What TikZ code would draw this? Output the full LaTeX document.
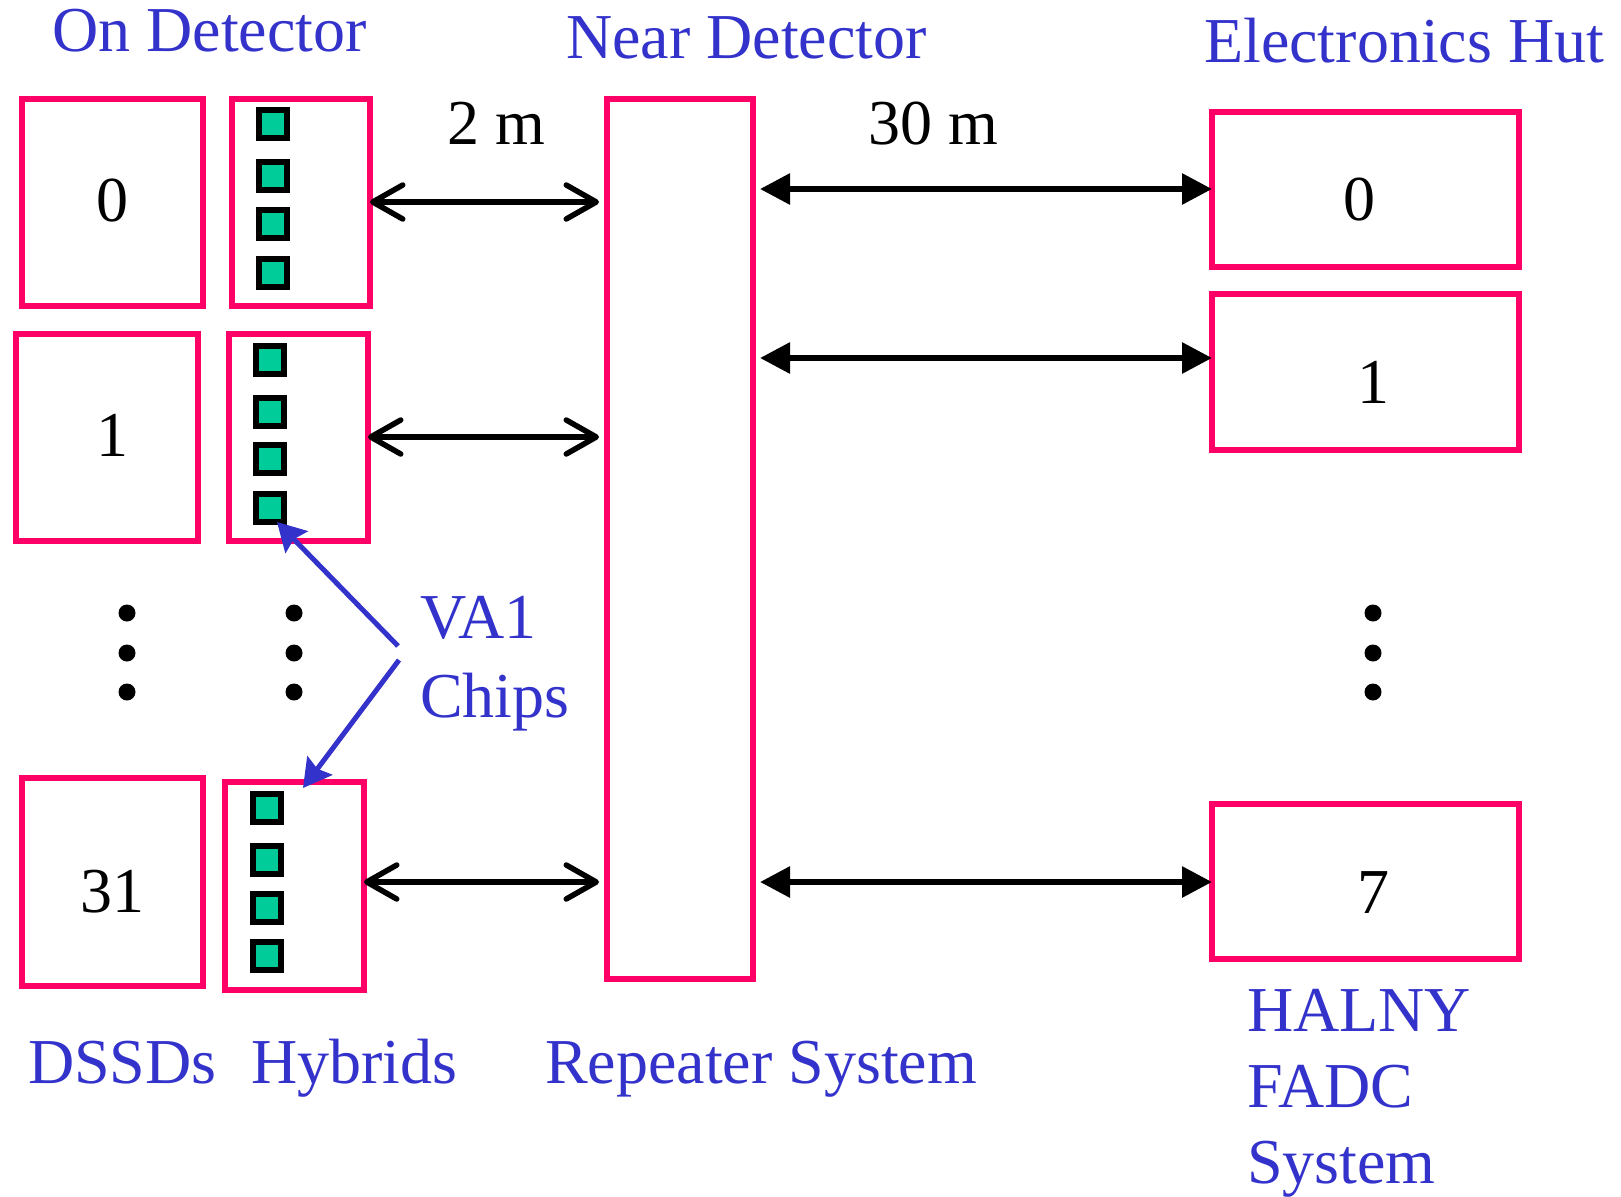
\documentclass[tikz,border=0pt]{standalone}
\usepackage{fontspec}
\setmainfont{Liberation Serif}
\usetikzlibrary{arrows.meta}
\definecolor{pinkc}{HTML}{FF0066}
\definecolor{bluec}{HTML}{3333CC}
\definecolor{chipc}{HTML}{00CC99}
\begin{document}
\begin{tikzpicture}[x=1pt,y=-1pt,
  box/.style={draw=pinkc,line width=6pt,inner sep=0pt,outer sep=0pt,rectangle},
  chip/.style={draw=black,fill=chipc,line width=6pt,minimum size=28pt,inner sep=0pt,outer sep=0pt,rectangle},
  num/.style={font=\fontsize{64}{70}\selectfont,inner sep=0pt,text=black},
  lbl/.style={font=\fontsize{64}{70}\selectfont,inner sep=0pt,text=bluec,anchor=base west},
  dist/.style={font=\fontsize{64}{70}\selectfont,inner sep=0pt,text=black,anchor=base west},
  dotn/.style={circle,fill=black,inner sep=0pt,minimum size=17pt},
  shortlink/.style={line width=5.5pt,{Straight Barb[length=30pt,width=34pt,line cap=round,line join=round]}-{Straight Barb[length=30pt,width=34pt,line cap=round,line join=round]}},
  longlink/.style={line width=6pt,{Triangle[length=30pt,width=30pt]}-{Triangle[length=30pt,width=30pt]}},
  chiparrow/.style={draw=bluec,line width=5pt,-{Stealth[length=28pt,width=31pt,inset=4pt]}}
]
\useasboundingbox (0,0) rectangle (1621,1196);

% DSSDs and hybrids
\node[box,minimum width=181pt,minimum height=207pt] (d0) at (112.5,202.5) {};
\node[box,minimum width=138pt,minimum height=207pt] (h0) at (301,202.5) {};
\node[box,minimum width=182pt,minimum height=207pt] (d1) at (107,437.5) {};
\node[box,minimum width=139pt,minimum height=207pt] (h1) at (298.5,437.5) {};
\node[box,minimum width=181pt,minimum height=208pt] (d31) at (112.5,882) {};
\node[box,minimum width=139pt,minimum height=208pt] (h31) at (294.5,886) {};

\node[num] (nd0) at (112,201) {0};
\node[num] (nd1) at (112,435) {1};
\node[num] (nd31) at (112,892) {31};

% chips
\foreach \y [count=\i] in {124,176,224,272.5} \node[chip] (c0\i) at (273,\y) {};
\foreach \y [count=\i] in {359.5,412,459,507.5} \node[chip] (c1\i) at (270,\y) {};
\foreach \y [count=\i] in {807.5,860,907.5,956} \node[chip] (c31\i) at (267,\y) {};

% repeater
\node[box,minimum width=146pt,minimum height=880pt] (rep) at (680,539) {};

% electronics hut
\node[box,minimum width=307pt,minimum height=155pt] (e0) at (1365.5,189.5) {};
\node[box,minimum width=307pt,minimum height=156pt] (e1) at (1365.5,372) {};
\node[box,minimum width=307pt,minimum height=155pt] (e7) at (1365.5,881.5) {};
\node[num] (ne0) at (1359,200) {0};
\node[num] (ne1) at (1373,382) {1};
\node[num] (ne7) at (1373,892.5) {7};

% dots
\foreach \y [count=\i] in {613,653,692} {
  \node[dotn] (dl\i) at (127,\y) {};
  \node[dotn] (dm\i) at (294,\y) {};
  \node[dotn] (dr\i) at (1373,\y) {};
}

% 2 m links
\coordinate (s0) at (370,202);
\coordinate (s1) at (368,437);
\coordinate (s31) at (364,882);
\draw[shortlink,shorten >=8pt] (s0) -- (s0 -| rep.west);
\draw[shortlink,shorten >=8pt] (s1) -- (s1 -| rep.west);
\draw[shortlink,shorten >=8pt] (s31) -- (s31 -| rep.west);

% 30 m links
\coordinate (l0) at (1212,189);
\coordinate (l1) at (1212,358);
\coordinate (l7) at (1212,882);
\draw[longlink,shorten <=7pt] (l0 -| rep.east) -- (l0);
\draw[longlink,shorten <=7pt] (l1 -| rep.east) -- (l1);
\draw[longlink,shorten <=7pt] (l7 -| rep.east) -- (l7);

% VA1 chip arrows
\coordinate (va1a) at (398,646);
\coordinate (va1b) at (399,660);
\coordinate (tipa) at (277,522);
\coordinate (tipb) at (303,788);
\draw[chiparrow] (va1a) -- (tipa);
\draw[chiparrow] (va1b) -- (tipb);

% labels
\node[lbl] (tOn) at (52,52) {On Detector};
\node[lbl] (tNear) at (566,59) {Near Detector};
\node[lbl] (tEl) at (1204,63) {Electronics Hut};
\node[dist] (t2m) at (447,144) {2 m};
\node[dist] (t30m) at (868,144) {30 m};
\node[lbl] (tVA) at (420,638) {VA1};
\node[lbl] (tCh) at (420,717) {Chips};
\node[lbl] (tDS) at (28,1083) {DSSDs};
\node[lbl] (tHy) at (251,1083) {Hybrids};
\node[lbl] (tRe) at (545,1083) {Repeater System};
\node[lbl] (tHa) at (1247,1031) {HALNY};
\node[lbl] (tFa) at (1247,1107) {FADC};
\node[lbl] (tSy) at (1247,1183) {System};
\end{tikzpicture}
\end{document}
